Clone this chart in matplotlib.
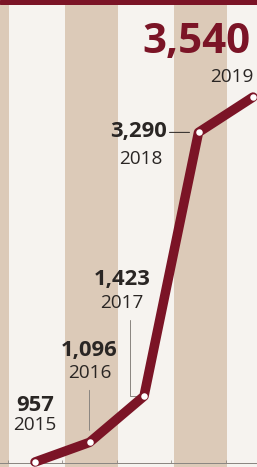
import matplotlib
matplotlib.use('Agg')
import matplotlib.pyplot as plt
from matplotlib.patches import Rectangle

# data
years = [2015, 2016, 2017, 2018, 2019]
values = [957, 1096, 1423, 3290, 3540]
value_labels = ['957', '1,096', '1,423', '3,290', '3,540']
year_labels = ['2015', '2016', '2017', '2018', '2019']
stripe_years = [2014, 2016, 2018]

RED = '#7b1426'
TAN = '#dccab8'
PAPER = '#f6f3ef'
INK = '#2a2624'
GREY = '#8c8782'

plt.rcParams['font.family'] = ['Open Sans', 'DejaVu Sans']

# dpi 72 so that points == pixels
fig = plt.figure(figsize=(257 / 72, 467 / 72), dpi=72, facecolor=PAPER)
ax = fig.add_axes([0, 4 / 467, 1, 463 / 467])
ax.set_facecolor(PAPER)
ax.set_xlim(2014.358, 2019.073)
ax.set_ylim(950, 4227)

# background stripes
for yr in stripe_years:
    ax.axvspan(yr - 0.45, yr + 0.53, ymin=-0.02, ymax=1, color=TAN, lw=0,
               zorder=0, clip_on=False)

# red band at the top
fig.patches.append(Rectangle((0, 1 - 4 / 467), 1, 4 / 467, transform=fig.transFigure,
                             color=RED, zorder=5))

# baseline + small ticks
for side in ['top', 'left', 'right']:
    ax.spines[side].set_visible(False)
ax.spines['bottom'].set_color(GREY)
ax.spines['bottom'].set_linewidth(1)
ax.set_xticks([y + 0.5 for y in range(2014, 2019)])
ax.tick_params(axis='x', direction='in', length=3, color=GREY, labelbottom=False)
ax.set_yticks([])

# line and markers
ax.plot(years, values, color=RED, lw=9.5, solid_capstyle='round',
        solid_joinstyle='round', zorder=3, clip_on=False)
ax.plot(years, values, 'o', color='white', ms=6.5, mew=0, zorder=4, clip_on=False)

# labels (offsets in points)
num_off = [(0, 57), (0, 92), (-22, 117), (-32, 1), (-3, 55)]
num_ha = ['center', 'center', 'center', 'right', 'right']
yr_off = [(0, 37), (0, 69), (-22, 93), (-36, -27), (0, 20)]
yr_ha = ['center', 'center', 'center', 'right', 'right']

for i in range(len(years)):
    last = i == len(years) - 1
    ax.annotate(value_labels[i], xy=(years[i], values[i]), xytext=num_off[i],
                textcoords='offset points', ha=num_ha[i], va='center',
                fontsize=42 if last else 22, fontweight='bold',
                color=RED if last else INK, zorder=6, annotation_clip=False)
    ax.annotate(year_labels[i], xy=(years[i], values[i]), xytext=yr_off[i],
                textcoords='offset points', ha=yr_ha[i], va='center',
                fontsize=19, color=INK, zorder=6, annotation_clip=False)

# leader lines
ax.annotate('', xy=(years[1], values[1]), xytext=(0, 52), textcoords='offset points',
            arrowprops=dict(arrowstyle='-', color=GREY, lw=1, shrinkA=0, shrinkB=12),
            zorder=2)
ax.annotate('', xy=(years[2], values[2]), xytext=(-14, 76), textcoords='offset points',
            arrowprops=dict(arrowstyle='-', color=GREY, lw=1, shrinkA=0, shrinkB=0,
                            connectionstyle='angle,angleA=90,angleB=0,rad=0'),
            zorder=2)
ax.annotate('', xy=(years[3], values[3]), xytext=(-29, 0), textcoords='offset points',
            arrowprops=dict(arrowstyle='-', color=INK, lw=1, shrinkA=0, shrinkB=9),
            zorder=2)

fig.savefig('out.png', dpi=72, facecolor=PAPER)
